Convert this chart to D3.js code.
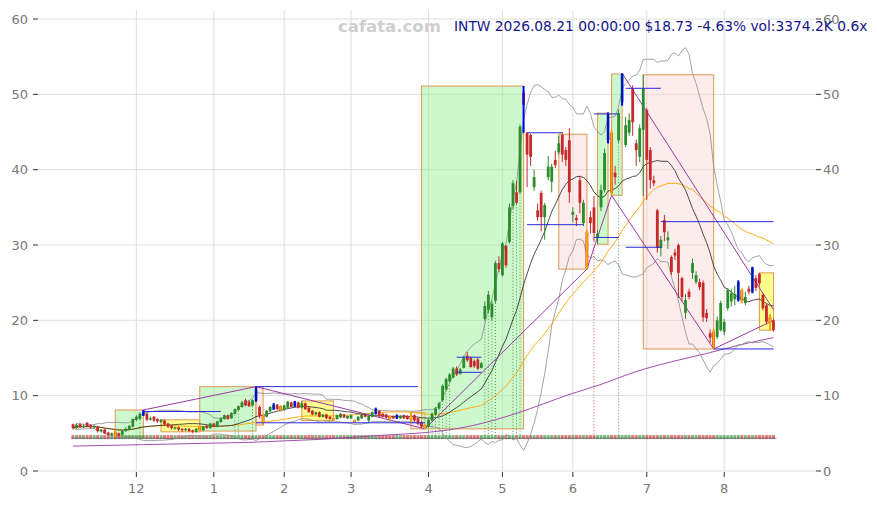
<!DOCTYPE html>
<html><head><meta charset="utf-8">
<script src="https://cdn.jsdelivr.net/npm/d3@7"></script>
<style>body{margin:0;background:#fff}svg{display:block}text{font-family:"DejaVu Sans",sans-serif}</style>
</head><body><svg id="c" width="877" height="505"></svg>
<script>
// ---- data ----
const openP=[6.2,5.7,6.2,5.8,6.4,6.1,5.8,5.9,5.3,5.5,5.1,4.8,5.2,5.0,4.8,5.3,5.5,5.9,6.8,6.9,
7.4,7.6,6.8,7.2,6.9,6.5,6.7,6.3,6.0,5.6,5.8,5.6,5.4,5.6,5.4,5.2,5.9,5.4,6.0,5.7,
6.3,5.9,6.5,6.9,7.4,7.0,7.6,8.1,8.5,9.4,9.2,8.7,9.3,8.5,7.4,7.2,7.9,8.2,8.8,8.6,
8.1,8.4,9.1,8.6,9.1,8.4,9.0,8.4,8.0,7.5,7.8,7.2,7.5,7.2,7.0,6.9,7.1,7.5,7.0,7.0,
6.7,6.7,7.0,7.5,6.7,7.2,7.6,8.0,7.6,7.5,7.3,7.3,7.0,7.0,7.4,7.3,7.1,7.4,7.0,6.5,
6.1,5.9,6.7,7.5,8.3,9.4,10.8,11.9,12.4,13.6,12.9,13.7,15.3,15.0,14.6,14.8,13.7,20.2,21.4,20.4,
22.6,27.6,26.0,29.9,30.4,35.2,37.0,37.0,50.2,44.9,44.6,37.7,34.6,36.9,33.7,39.0,38.4,41.3,42.3,44.6,
42.6,43.9,34.0,33.6,38.6,32.9,31.7,33.7,35.0,30.9,35.0,37.3,43.9,44.9,39.6,43.9,49.0,43.3,44.9,50.8,
43.5,41.7,45.3,47.9,42.6,38.6,34.6,29.6,33.3,30.6,28.4,29.0,30.0,25.6,21.0,23.8,26.3,25.1,25.1,25.0,
21.0,18.3,18.5,17.8,18.7,18.5,21.6,22.5,22.8,22.7,24.0,22.3,24.2,23.8,25.6,26.2,23.4,22.0,20.4,20.0];
const highP=[6.3,6.3,6.4,6.2,6.5,6.2,6.1,6.0,5.6,5.6,5.2,5.1,5.5,5.1,5.4,5.8,6.1,7.0,7.4,7.8,
8.1,7.8,7.2,7.3,7.0,6.9,6.8,6.4,6.1,5.9,5.9,5.7,5.7,5.7,5.5,5.7,6.0,6.0,6.1,6.4,
6.4,6.7,7.1,7.5,7.5,7.8,8.3,8.7,9.3,9.6,9.4,9.5,11.2,8.7,7.5,8.1,8.6,9.0,8.9,8.7,
8.8,9.3,9.2,9.3,9.2,9.3,9.1,8.5,8.1,7.9,7.9,7.6,7.6,7.3,7.1,7.5,7.7,7.6,7.4,7.5,
6.8,7.3,7.6,7.6,7.4,7.9,8.4,8.1,7.7,7.6,7.4,7.4,7.5,7.4,7.5,7.4,7.8,7.5,7.1,6.6,
6.2,6.9,7.8,8.5,9.2,11.5,12.4,13.0,13.8,13.9,13.7,15.3,15.8,15.2,14.8,15.0,14.5,22.5,23.9,22.6,
27.9,28.5,30.4,30.0,35.5,38.6,38.5,46.0,51.1,45.0,44.8,40.0,35.5,37.2,35.6,41.8,40.8,42.5,44.5,45.0,
43.0,45.5,35.0,34.0,39.2,36.0,32.0,34.5,36.5,32.0,38.0,42.8,47.6,45.2,40.5,48.0,52.8,47.0,47.5,51.2,
44.0,46.0,52.6,48.2,43.0,39.2,34.8,31.2,34.0,31.8,28.6,29.5,30.2,25.8,23.5,24.2,28.2,26.5,25.5,25.3,
21.5,18.8,18.8,20.5,22.6,20.2,24.3,24.2,24.6,25.3,24.2,23.8,24.6,27.1,26.0,26.3,23.6,22.2,20.8,20.2];
const lowP=[5.5,5.6,5.7,5.7,5.8,5.6,5.6,5.1,5.1,4.9,4.6,4.6,4.5,4.6,4.7,5.2,5.4,5.8,6.6,6.8,
7.3,6.6,6.7,6.5,6.4,6.4,6.0,5.7,5.5,5.5,5.3,5.2,5.3,5.2,5.0,5.1,5.3,5.3,5.6,5.6,
5.8,5.8,6.4,6.8,6.8,6.9,7.5,8.0,8.4,8.6,8.5,8.6,9.2,7.0,6.1,7.1,7.8,8.1,8.1,7.9,
8.0,8.3,8.4,8.5,8.3,8.3,8.1,7.7,7.4,7.4,7.1,7.1,6.9,6.8,6.7,6.8,7.0,7.0,6.9,6.9,
6.4,6.6,6.9,7.1,6.4,7.1,7.5,7.1,7.1,7.0,6.7,6.9,6.9,6.9,6.9,6.8,6.6,6.5,6.1,5.7,
5.6,5.8,6.6,7.4,8.2,9.3,10.7,11.8,12.3,12.6,12.8,13.6,14.5,13.7,13.7,13.4,13.6,20.0,21.0,20.0,
22.3,26.4,25.8,27.0,30.2,34.8,35.4,36.8,44.9,37.7,40.5,37.2,33.2,31.8,30.7,38.6,37.0,40.2,42.0,41.0,
40.5,35.6,33.0,32.5,34.2,32.5,26.8,31.5,30.5,30.1,34.5,37.0,43.5,36.6,38.0,43.5,48.5,43.0,44.5,44.5,
40.5,41.0,36.5,36.0,37.5,37.8,29.0,28.5,30.5,29.5,26.0,28.0,23.0,22.5,20.2,22.8,25.5,24.8,24.0,19.8,
19.8,17.0,16.2,17.5,18.5,18.0,21.3,21.8,22.0,22.5,22.3,22.0,23.5,23.6,23.9,24.6,21.3,19.5,18.6,18.5];
const closeP=[5.7,6.1,5.8,6.0,5.9,5.8,6.0,5.3,5.5,5.0,4.8,5.0,4.7,4.7,5.3,5.6,6.0,6.9,7.2,7.6,
7.9,6.8,7.0,6.7,6.6,6.8,6.2,5.9,5.7,5.8,5.5,5.4,5.6,5.3,5.2,5.6,5.4,5.9,5.7,6.3,
5.9,6.6,7.0,7.4,6.9,7.7,8.2,8.6,9.1,8.7,8.6,9.4,10.9,7.3,6.6,8.0,8.5,8.8,8.2,8.0,
8.7,9.2,8.5,9.2,8.4,9.0,8.2,7.8,7.5,7.8,7.2,7.5,7.0,6.9,6.8,7.4,7.6,7.1,7.3,7.4,
6.5,7.2,7.5,7.2,7.3,7.8,8.2,7.3,7.2,7.1,6.9,7.0,7.4,7.3,7.0,6.9,6.8,6.7,6.3,5.9,
5.8,6.8,7.6,8.3,9.0,11.3,12.2,12.8,13.6,12.8,13.5,15.0,14.7,13.8,13.9,13.6,14.3,21.9,23.4,22.2,
27.6,26.8,30.2,27.3,35.0,38.2,35.6,45.7,48.6,42.0,41.7,39.0,33.7,33.7,35.3,40.4,40.4,40.6,43.5,42.0,
41.3,37.0,34.4,33.3,35.6,35.6,26.9,32.9,31.6,31.5,37.3,42.2,47.5,36.9,39.0,47.5,52.7,45.9,46.6,46.3,
42.6,45.5,50.8,41.3,38.6,38.2,29.6,30.7,31.7,31.0,26.4,28.6,26.3,23.1,22.7,23.1,27.6,26.0,24.4,20.4,
20.3,17.7,16.3,20.0,22.3,19.8,24.0,23.6,23.5,25.1,22.6,23.1,23.8,27.0,24.3,24.9,21.6,19.8,19.64,18.73];

const blueMarks=[20,52,57,63,86,92,128,152,156,189,193];
const orangeMarks=[12,36,54,59,74,80,90,96,100,146,153,182,190,198];
const greenSignals=[19,46,47,51,101,102,103,104,105,106,107,117,118,119,120,125,126,127,155];
const redSignals=[148];

// 200-day average line (candle index, price)
const ma200Idx=[0,10,20,30,40,50,60,70,80,90,100,110,120,130,140,150,160,170,180,190,199];
const ma200Val=[3.3,3.4,3.5,3.6,3.7,3.8,4.0,4.2,4.5,4.8,5.1,5.7,6.8,8.3,10.0,11.5,13.2,14.5,15.6,16.8,17.7];

// zones: start index, end index, low, high, kind
const boxStart=[12,25,36,52,65,96,99,138,149,153,162,195];
const boxEnd  =[20,36,52,54,74,100,128,146,152,156,182,199];
const boxLow  =[4.5,5.2,5.3,6.1,6.7,5.6,5.6,26.8,30.1,36.6,16.2,18.7];
const boxHigh =[8.1,6.8,11.2,11.2,9.3,7.8,51.1,44.7,47.5,52.7,52.6,26.3];
const boxKind =["up","flat","up","down","flat","down","up","down","up","up","down","flat"];

// trend lines
const tlFrom=[20,52,100,146,153,156,182];
const tlFromP=[8.1,11.2,5.6,26.8,36.6,52.8,16.2];
const tlTo=[52,100,146,153,182,199,199];
const tlToP=[11.2,5.6,26.8,36.6,16.2,21.4,20.0];

// horizontal levels
const lvStart=[20,52,52,109,109,129,129,148,148,157,157,167,182];
const lvEnd  =[42,98,100,116,116,139,145,155,155,167,167,199,199];
const lvPrice=[7.9,11.2,6.4,15.1,13.1,44.9,32.7,47.4,31.0,50.8,29.7,33.1,16.2];

const yTicks=[0,10,20,30,40,50,60];
const holidays=["2025-11-27","2025-12-25","2026-01-01","2026-01-19","2026-02-16","2026-04-03","2026-05-25","2026-06-19","2026-07-03"];
const firstDay="2025-11-04", lastDay="2026-08-21";
const titleText="INTW 2026.08.21 00:00:00 $18.73 -4.63% vol:3374.2K 0.6x";
const watermark="cafata.com";

// ---- build ----
function tradingDays(a,b){
  const out=[];let d=new Date(a+"T00:00:00Z");const e=new Date(b+"T00:00:00Z");
  while(d<=e){const wd=d.getUTCDay();const s=d.toISOString().slice(0,10);
    if(wd!==0&&wd!==6&&!holidays.includes(s))out.push(new Date(d));
    d=new Date(d.getTime()+86400000);}
  return out;
}
const dates=tradingDays(firstDay,lastDay);
const N=closeP.length;
const svg=d3.select("#c");
const P={l:38,r:816,t:10,b:471};
const x=d3.scaleLinear().domain([0,N-1]).range([73,773.5]);
const y=d3.scaleLinear().domain([0,60]).range([471,19]);

svg.append("defs").append("clipPath").attr("id","pc").append("rect")
  .attr("x",P.l).attr("y",P.t).attr("width",P.r-P.l).attr("height",P.b-P.t);

// grid
const grid=svg.append("g");
yTicks.forEach(t=>grid.append("line").attr("x1",P.l).attr("x2",P.r).attr("y1",y(t)).attr("y2",y(t))
  .attr("stroke","#dedede").attr("stroke-width",1));
const monthIdx=[];
for(let i=1;i<dates.length;i++){if(dates[i].getUTCMonth()!==dates[i-1].getUTCMonth())monthIdx.push(i);}
monthIdx.forEach(i=>grid.append("line").attr("x1",x(i)).attr("x2",x(i)).attr("y1",P.t).attr("y2",P.b)
  .attr("stroke","#dedede").attr("stroke-width",1));

const g=svg.append("g").attr("clip-path","url(#pc)");
// zones
const fills={up:["#9cf09c",0.5],down:["#fbd0d0",0.4],flat:["#ffff33",0.55]};
boxStart.forEach((s,k)=>{
  const f=fills[boxKind[k]];
  g.append("rect").attr("x",x(s)).attr("width",x(boxEnd[k])-x(s))
   .attr("y",y(boxHigh[k])).attr("height",y(boxLow[k])-y(boxHigh[k]))
   .attr("fill",f[0]).attr("fill-opacity",f[1]).attr("stroke","#e0a060").attr("stroke-width",1.1);
});

const up=i=>closeP[i]>=openP[i];
const GREEN="#2a8c2a",RED="#c42a2a";
// bottom strip
const stripP=4.5;
d3.range(N).forEach(i=>{
  g.append("rect").attr("x",x(i)-1.5).attr("width",3).attr("y",y(stripP)-2).attr("height",4)
   .attr("fill",up(i)?GREEN:RED).attr("fill-opacity",0.6);
});
g.append("line").attr("x1",x(0)-2).attr("x2",x(N-1)+3).attr("y1",y(4.35)).attr("y2",y(4.35))
 .attr("stroke","#334").attr("stroke-width",0.8).attr("stroke-opacity",0.7);

// signal dotted lines
greenSignals.forEach(i=>g.append("line").attr("x1",x(i)).attr("x2",x(i)).attr("y1",y(lowP[i])).attr("y2",y(stripP))
  .attr("stroke",GREEN).attr("stroke-width",0.8).attr("stroke-dasharray","1,2"));
redSignals.forEach(i=>g.append("line").attr("x1",x(i)).attr("x2",x(i)).attr("y1",y(lowP[i])).attr("y2",y(stripP))
  .attr("stroke",RED).attr("stroke-width",0.8).attr("stroke-dasharray","1,2"));

// moving averages / bands from close
function sma(n){return closeP.map((_,i)=>{const w=closeP.slice(Math.max(0,i-n+1),i+1);return d3.mean(w);});}
function sd(n){return closeP.map((_,i)=>{const w=closeP.slice(Math.max(0,i-n+1),i+1);const m=d3.mean(w);return Math.sqrt(d3.mean(w,v=>(v-m)*(v-m)));});}
const m20=sma(20),s20=sd(20),m50=sma(50);
const line=d3.line().x((d,i)=>x(i)).y(d=>y(d));
g.append("path").attr("d",d3.line().x((d,k)=>x(ma200Idx[k])).y(d=>y(d)).curve(d3.curveMonotoneX)(ma200Val))
 .attr("fill","none").attr("stroke","#9a3aa6").attr("stroke-width",0.9);
g.append("path").attr("d",line(m20.map((m,i)=>m+2*s20[i]))).attr("fill","none").attr("stroke","#8c8c8c").attr("stroke-width",0.8);
g.append("path").attr("d",line(m20.map((m,i)=>m-2*s20[i]))).attr("fill","none").attr("stroke","#8c8c8c").attr("stroke-width",0.8);
g.append("path").attr("d",line(m50)).attr("fill","none").attr("stroke","#ffa500").attr("stroke-width",0.9);
g.append("path").attr("d",line(m20)).attr("fill","none").attr("stroke","#222").attr("stroke-width",0.8);

// trend lines
tlFrom.forEach((s,k)=>g.append("line").attr("x1",x(s)).attr("y1",y(tlFromP[k])).attr("x2",x(tlTo[k])).attr("y2",y(tlToP[k]))
  .attr("stroke","#9a3aa6").attr("stroke-width",1));

// candles
d3.range(N).forEach(i=>{
  const c=up(i)?GREEN:RED;
  g.append("line").attr("x1",x(i)).attr("x2",x(i)).attr("y1",y(highP[i])).attr("y2",y(lowP[i])).attr("stroke",c).attr("stroke-width",1);
  const t=y(Math.max(openP[i],closeP[i])),b=y(Math.min(openP[i],closeP[i]));
  g.append("rect").attr("x",x(i)-1.4).attr("width",2.8).attr("y",t).attr("height",Math.max(0.8,b-t)).attr("fill",c);
});
blueMarks.forEach(i=>g.append("line").attr("x1",x(i)).attr("x2",x(i)).attr("y1",y(highP[i])).attr("y2",y(lowP[i]))
  .attr("stroke","#0000ff").attr("stroke-width",2));
orangeMarks.forEach(i=>g.append("line").attr("x1",x(i)).attr("x2",x(i)).attr("y1",y(highP[i])).attr("y2",y(lowP[i]))
  .attr("stroke","#ffa500").attr("stroke-width",2));

// levels
lvStart.forEach((s,k)=>g.append("line").attr("x1",x(s)).attr("x2",x(lvEnd[k])).attr("y1",y(lvPrice[k])).attr("y2",y(lvPrice[k]))
  .attr("stroke","#2b2bdc").attr("stroke-width",1));

// axes
const ax=svg.append("g").attr("font-size",13).attr("fill","#777");
yTicks.forEach(t=>{
  ax.append("line").attr("x1",P.l-5).attr("x2",P.l).attr("y1",y(t)).attr("y2",y(t)).attr("stroke","#333");
  ax.append("line").attr("x1",P.r).attr("x2",P.r+5).attr("y1",y(t)).attr("y2",y(t)).attr("stroke","#333");
  ax.append("text").attr("x",P.l-10).attr("y",y(t)).attr("dy","0.36em").attr("text-anchor","end").text(t);
  ax.append("text").attr("x",P.r+7).attr("y",y(t)).attr("dy","0.36em").attr("text-anchor","start").text(t);
});
monthIdx.forEach(i=>{
  ax.append("line").attr("x1",x(i)).attr("x2",x(i)).attr("y1",P.b+1).attr("y2",P.b+6).attr("stroke","#333");
  ax.append("text").attr("x",x(i)).attr("y",P.b+22).attr("text-anchor","middle").text(dates[i].getUTCMonth()+1);
});

// texts
svg.append("text").attr("x",338).attr("y",32).attr("font-size",16.5).attr("font-weight","bold")
  .attr("fill","#cfcfcf").text(watermark);
svg.append("text").attr("x",454).attr("y",31).attr("font-size",13.8).attr("fill","#15158a").text(titleText);
</script></body></html>
